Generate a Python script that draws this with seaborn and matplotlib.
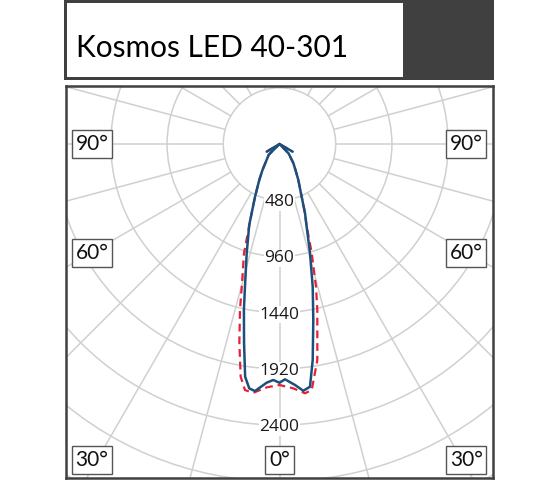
import numpy as np
import pandas as pd
import matplotlib
matplotlib.use("Agg")
import matplotlib.pyplot as plt
import seaborn as sns
from matplotlib.patches import Rectangle, Circle

# luminous intensity distribution, cd vs gamma (deg), negative gamma = left half
blueGamma = [-59, -50, -45, -33.2, -29.3, -24.9, -21.9, -20.5, -16.7, -13.6,
             -12.1, -10.1, -8.4, -7.05, -5.66, -3.07, -1.5, 0, 1.34, 3.68, 5.51,
             7.16, 8.74, 10.87, 13.1, 15.6, 18.4, 20.2, 22.8, 27.6, 31.5, 36.0,
             44.0, 50, 59.7]
blueCd = [128, 0, 130, 265, 353, 496, 638, 738, 975, 1254,
          1450, 1726, 2009, 2103, 2120, 2041, 2016, 2039, 2010, 2062, 2117,
          2089, 1866, 1530, 1251, 969, 729, 631, 488, 347, 262, 200,
          112, 0, 130]

redGamma = [-59, -50, -45, -33.2, -29.3, -24.9, -21.9, -20.5, -18.0, -14.8,
            -13.4, -11.4, -9.47, -7.98, -6.01, -3.01, 0, 3.23, 5.84, 7.46, 9.93,
            12.83, 14.35, 16.46, 18.4, 20.2, 22.8, 27.6, 31.5, 36.0, 44.0, 50, 59.7]
redCd = [128, 0, 130, 265, 353, 496, 638, 730, 981, 1261,
         1457, 1734, 2015, 2122, 2136, 2081, 2058, 2090, 2140, 2119, 1873,
         1454, 1258, 971, 729, 631, 488, 347, 262, 200, 112, 0, 130]

ringValues = [480, 960, 1440, 1920, 2400, 2880, 3360]
ringLabels = ["480", "960", "1440", "1920", "2400"]
spokeAngles = list(range(0, 360, 15))
angleLabels = ["90°", "60°", "30°", "0°", "30°", "60°", "90°"]
angleLabelPos = [(0.061, 0.852), (0.061, 0.574), (0.061, 0.046), (0.5, 0.046),
                 (0.937, 0.046), (0.937, 0.574), (0.937, 0.852)]

titleText = "Kosmos LED 40-301"

gridColor = "#d0d0d0"
frameColor = "#404040"
blueColor = "#1b4f7c"
redColor = "#e3223a"


def toXY(gamma, cd):
    g = np.radians(np.asarray(gamma, dtype=float))
    c = np.asarray(cd, dtype=float)
    return pd.DataFrame({"x": c * np.sin(g), "y": -c * np.cos(g)})


sns.set_theme(style="white")
plt.rcParams["font.family"] = ["Lato", "DejaVu Sans"]

fig = plt.figure(figsize=(5.6, 4.8), dpi=100, facecolor="white")

# header block
headAx = fig.add_axes([64 / 560, 1 - 80 / 480, 430 / 560, 80 / 480])
headAx.set_xlim(64, 494)
headAx.set_ylim(80, 0)
headAx.axis("off")
headAx.add_patch(Rectangle((64, 0), 430, 80, facecolor=frameColor, edgecolor="none"))
headAx.add_patch(Rectangle((67, 2.5), 336, 74.5, facecolor="white", edgecolor="none"))
headAx.text(76, 57, titleText, fontsize=21.5, color="black", va="baseline", ha="left",
            family=["Lato", "DejaVu Sans"])

# polar diagram drawn on an equal-aspect cartesian axes
ax = fig.add_axes([66 / 560, 2 / 480, 427 / 560, 392 / 480])
ax.set_xlim(-1823, 1823)
ax.set_ylim(-2852, 495)
ax.set_aspect("equal", adjustable="box")
ax.set_xticks([])
ax.set_yticks([])
ax.set_facecolor("white")
for spine in ax.spines.values():
    spine.set_edgecolor(frameColor)
    spine.set_linewidth(1.8)

for r in ringValues:
    ax.add_patch(Circle((0, 0), r, fill=False, edgecolor=gridColor, linewidth=1.1, zorder=1))
for a in spokeAngles:
    t = np.radians(a)
    r0, r1 = ringValues[0], 5000
    ax.plot([r0 * np.sin(t), r1 * np.sin(t)], [-r0 * np.cos(t), -r1 * np.cos(t)],
            color=gridColor, linewidth=1.1, zorder=1)

for val, lab in zip(ringValues, ringLabels):
    ax.text(0, -val, lab, ha="center", va="center_baseline", fontsize=12.5,
            color="#1a1a1a", family=["Open Sans", "DejaVu Sans"], zorder=3,
            bbox=dict(facecolor="white", edgecolor="none", pad=0.5))

for lab, (px, py) in zip(angleLabels, angleLabelPos):
    ax.text(px, py, lab, transform=ax.transAxes, ha="center", va="center",
            fontsize=15, color="#111111", zorder=4,
            bbox=dict(boxstyle="square,pad=0.18", facecolor="white",
                      edgecolor="#555555", linewidth=1.0))

redDf = toXY(redGamma, redCd)
blueDf = toXY(blueGamma, blueCd)
sns.lineplot(data=redDf, x="x", y="y", sort=False, estimator=None, ax=ax,
             color=redColor, linewidth=1.6, linestyle=(0, (3.5, 2.2)), zorder=5)
sns.lineplot(data=blueDf, x="x", y="y", sort=False, estimator=None, ax=ax,
             color=blueColor, linewidth=1.8, zorder=6)
ax.set_xlabel("")
ax.set_ylabel("")

fig.savefig("out.png", dpi=100, facecolor="white")
